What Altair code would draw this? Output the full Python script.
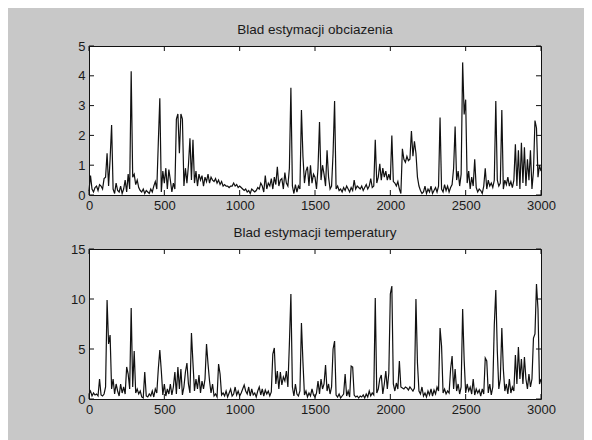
import altair as alt
import pandas as pd

# sample index (every 10th sample)
X_STEP = 10

# Blad estymacji obciazenia (load estimation error)
load_err = [
    0.15, 0.65, 0.2, 0.1, 0.25, 0.3, 0.15, 0.35, 0.3, 0.2,
    0.55, 0.6, 1.4, 0.3, 1.2, 2.35, 0.2, 0.05, 0.4, 0.15,
    0.1, 0.3, 0.05, 0.2, 0.5, 0.1, 0.7, 0.2, 4.15, 0.6,
    0.7, 0.35, 0.5, 0.25, 0.15, 0.1, 0.2, 0.05, 0.15, 0.1,
    0.05, 0.2, 0.1, 0.3, 0.45, 0.2, 1.75, 3.25, 0.1, 0.8,
    0.4, 0.9, 0.2, 0.85, 0.5, 0.1, 0.4, 0.2, 2.55, 2.72,
    1.4, 2.72, 2.55, 0.3, 0.9, 0.4, 1.0, 1.9, 0.5, 1.85,
    0.4, 0.8, 0.3, 0.7, 0.5, 0.65, 0.3, 0.6, 0.45, 0.7,
    0.4, 0.6, 0.5, 0.45, 0.55, 0.4, 0.5, 0.35, 0.45, 0.3,
    0.35, 0.3, 0.3, 0.25, 0.3, 0.3, 0.4, 0.3, 0.35, 0.25,
    0.3, 0.25, 0.2, 0.15, 0.2, 0.1, 0.15, 0.05, 0.2, 0.15,
    0.1, 0.15, 0.25, 0.2, 0.4, 0.3, 0.1, 0.65, 0.2, 0.4,
    0.3, 0.55, 0.2, 0.6, 0.35, 0.95, 0.3, 0.5, 0.55, 0.2,
    0.75, 0.4, 0.3, 0.9, 3.6, 0.3, 0.05, 0.35, 0.1, 0.3,
    0.2, 2.85, 1.3, 0.4, 0.8, 0.95, 0.3, 1.0, 0.4, 0.7,
    0.6, 0.2, 0.9, 2.45, 0.5, 1.0, 0.7, 0.3, 1.5, 0.6,
    0.2, 0.3, 1.4, 3.15, 0.2, 0.3, 0.15, 0.2, 0.1, 0.25,
    0.15, 0.3, 0.2, 0.1, 0.25, 0.15, 0.5, 0.2, 0.3, 0.25,
    0.2, 0.3, 0.15, 0.25, 0.35, 0.2, 0.3, 0.55, 0.25, 0.3,
    1.85, 0.4, 0.6, 1.05, 0.5, 0.9, 0.6, 0.8, 0.5, 0.7,
    0.5, 2.0, 0.45, 0.4, 0.3, 0.45, 0.2, 0.05, 1.55, 1.2,
    1.1, 1.3, 1.15, 1.2, 2.15, 1.3, 1.8, 1.4, 0.6, 0.3,
    0.15, 0.05, 0.1, 0.3, 0.05, 0.2, 0.1, 0.3, 0.05, 0.15,
    0.25, 0.1, 0.3, 2.6, 0.2, 0.1, 0.35, 0.15, 0.3, 0.1,
    0.25, 0.35, 0.9, 2.3, 0.5, 0.8, 0.3, 0.7, 4.45, 2.7,
    3.2, 0.4, 0.8, 0.2, 0.6, 0.3, 1.2, 0.25, 0.1, 0.2,
    0.15, 0.05, 0.3, 0.9, 0.2, 0.5, 0.3, 0.4, 0.25, 0.5,
    3.15, 0.5, 0.3, 0.4, 2.85, 0.2, 0.5, 0.35, 0.6, 0.3,
    0.45, 0.25, 0.5, 1.7, 0.3, 1.5, 0.2, 1.75, 0.4, 1.6,
    0.3, 1.2, 0.5, 1.5, 0.2, 0.8, 2.5, 2.25, 0.6, 1.0,
    0.8,
]

# Blad estymacji temperatury (temperature estimation error)
temp_err = [
    0.5, 0.8, 0.3, 0.6, 0.4, 0.5, 0.3, 2.0, 0.4, 0.3,
    0.5, 1.2, 9.9, 5.5, 6.4, 1.0, 2.0, 0.5, 1.5, 0.8,
    0.3, 1.5, 0.6, 1.2, 0.5, 3.2, 2.5, 1.0, 9.1, 1.2,
    4.8, 0.6, 1.0, 0.5, 0.8, 0.2, 0.1, 2.7, 0.3, 0.2,
    0.5, 0.3, 0.8, 0.2, 1.0, 0.6, 3.0, 4.9, 2.8, 0.4,
    1.5, 0.3, 1.0, 0.5, 1.5, 0.4, 1.2, 2.7, 0.5, 3.2,
    1.0, 3.0, 0.4, 1.2, 2.7, 3.6, 1.5, 0.6, 6.6, 3.6,
    0.8, 2.0, 1.0, 2.4, 0.6, 1.8, 1.0, 2.0, 5.5, 3.5,
    1.8, 0.6, 1.5, 0.3, 0.5, 0.2, 3.5, 2.5, 0.4, 0.6,
    0.3, 0.8, 0.2, 0.6, 1.0, 0.3, 0.5, 1.2, 0.4, 0.8,
    0.3, 0.6, 1.0, 1.4, 0.8, 0.5, 1.2, 0.3, 1.0, 0.4,
    0.6, 0.2, 0.8, 1.2, 0.4, 1.0, 0.3, 0.9, 0.5, 0.8,
    0.3, 0.7, 4.5, 5.1, 1.5, 2.8, 1.0, 2.7, 1.4, 2.2,
    1.8, 2.8, 1.2, 5.5, 10.5, 1.2, 0.3, 1.5, 0.5, 0.3,
    0.8, 7.6, 3.7, 0.4, 0.8, 0.2, 0.6, 0.3, 1.0, 0.4,
    0.2, 0.6, 1.8, 0.5, 2.0, 1.0, 1.5, 3.4, 0.8, 1.5,
    0.5, 1.2, 5.0, 5.8, 0.4, 0.2, 0.5, 0.1, 0.3, 0.5,
    2.5, 0.3, 0.8, 0.2, 3.3, 3.2, 0.4, 0.2, 0.3, 0.1,
    0.3, 0.2, 0.4, 0.1, 0.5, 0.2, 0.8, 0.3, 0.6, 0.4,
    10.1, 0.6, 1.0, 2.0, 2.4, 0.5, 1.5, 2.8, 1.0, 2.6,
    10.5, 11.3, 1.5, 0.8, 1.6, 1.0, 3.8, 1.2, 1.1, 1.0,
    1.2, 1.1, 0.9, 1.2, 1.0, 0.8, 1.1, 10.0, 3.6, 0.8,
    0.5, 1.2, 0.3, 0.6, 0.2, 0.8, 0.4, 1.0, 0.3, 0.9,
    0.5, 1.2, 0.8, 7.1, 5.3, 0.6, 1.0, 0.5, 0.8, 0.6,
    3.0, 4.3, 1.0, 3.0, 0.8, 1.5, 0.5, 1.2, 9.0, 3.9,
    0.6, 1.5, 0.8, 1.2, 0.5, 2.0, 0.4, 1.0, 0.6, 0.9,
    0.3, 1.0, 0.5, 4.1, 3.8, 0.6, 1.5, 0.4, 1.2, 7.4,
    10.9, 4.8, 1.0, 2.0, 7.1, 3.0, 0.8, 1.5, 0.5, 2.0,
    0.6, 1.2, 0.8, 4.4, 1.5, 5.2, 2.0, 4.0, 1.5, 4.2,
    2.0, 1.0, 2.5, 1.2, 2.0, 6.1, 6.5, 11.5, 9.0, 1.5,
    2.0,
]

x_ticks = [0, 500, 1000, 1500, 2000, 2500, 3000]
y_ticks_load = [0, 1, 2, 3, 4, 5]
y_ticks_temp = [0, 5, 10, 15]
titles = ["Blad estymacji obciazenia", "Blad estymacji temperatury"]

W = 452
FONT = "Liberation Sans"
TXT = "#1a1a1a"
TICK = 5


def panel(values, y_ticks, ymax, title, height):
    df = pd.DataFrame({"x": [i * X_STEP for i in range(len(values))], "y": values})
    xs = alt.Scale(domain=[0, 3000], nice=False, zero=False)
    ys = alt.Scale(domain=[0, ymax], nice=False)
    x_axis = alt.Axis(values=x_ticks, ticks=False, tickSize=0, domain=False,
                      grid=False, labelPadding=4, labelFontSize=13,
                      labelFont=FONT, labelColor=TXT, labelFlush=False,
                      format="d", title="")
    y_axis = alt.Axis(values=y_ticks, ticks=False, tickSize=0, domain=False,
                      grid=False, labelPadding=4, labelFontSize=13,
                      labelFont=FONT, labelColor=TXT, labelFlush=False,
                      format="d", title="")
    X = lambda: alt.X("x:Q", scale=xs, axis=x_axis)
    Y = lambda: alt.Y("y:Q", scale=ys, axis=y_axis)
    line = alt.Chart(df).mark_line(color="#111111", strokeWidth=1.2).encode(x=X(), y=Y())
    xt = pd.DataFrame({"x": x_ticks})
    yt = pd.DataFrame({"y": y_ticks})
    top_t = alt.Chart(xt).mark_rule(color="#111111", strokeWidth=1).encode(
        x=X(), y=alt.value(0), y2=alt.value(TICK))
    bot_t = alt.Chart(xt).mark_rule(color="#111111", strokeWidth=1).encode(
        x=X(), y=alt.value(height), y2=alt.value(height - TICK))
    left_t = alt.Chart(yt).mark_rule(color="#111111", strokeWidth=1).encode(
        y=Y(), x=alt.value(0), x2=alt.value(TICK))
    right_t = alt.Chart(yt).mark_rule(color="#111111", strokeWidth=1).encode(
        y=Y(), x=alt.value(W - TICK), x2=alt.value(W))
    return alt.layer(line, top_t, bot_t, left_t, right_t).properties(
        width=W, height=height,
        title=alt.TitleParams(title, fontSize=13.5, font=FONT, color=TXT,
                              fontWeight="normal", offset=4, anchor="middle"),
    )


chart = alt.vconcat(
    panel(load_err, y_ticks_load, 5, titles[0], 149),
    panel(temp_err, y_ticks_temp, 15, titles[1], 150),
    spacing=12,
).properties(
    background="#c8c8c8",
    padding={"left": 62, "top": 14, "right": 28, "bottom": 26},
).configure_view(
    stroke="#111111", strokeWidth=1, fill="white"
)

chart.save("out.html", embed_options={"renderer": "svg", "actions": False})
